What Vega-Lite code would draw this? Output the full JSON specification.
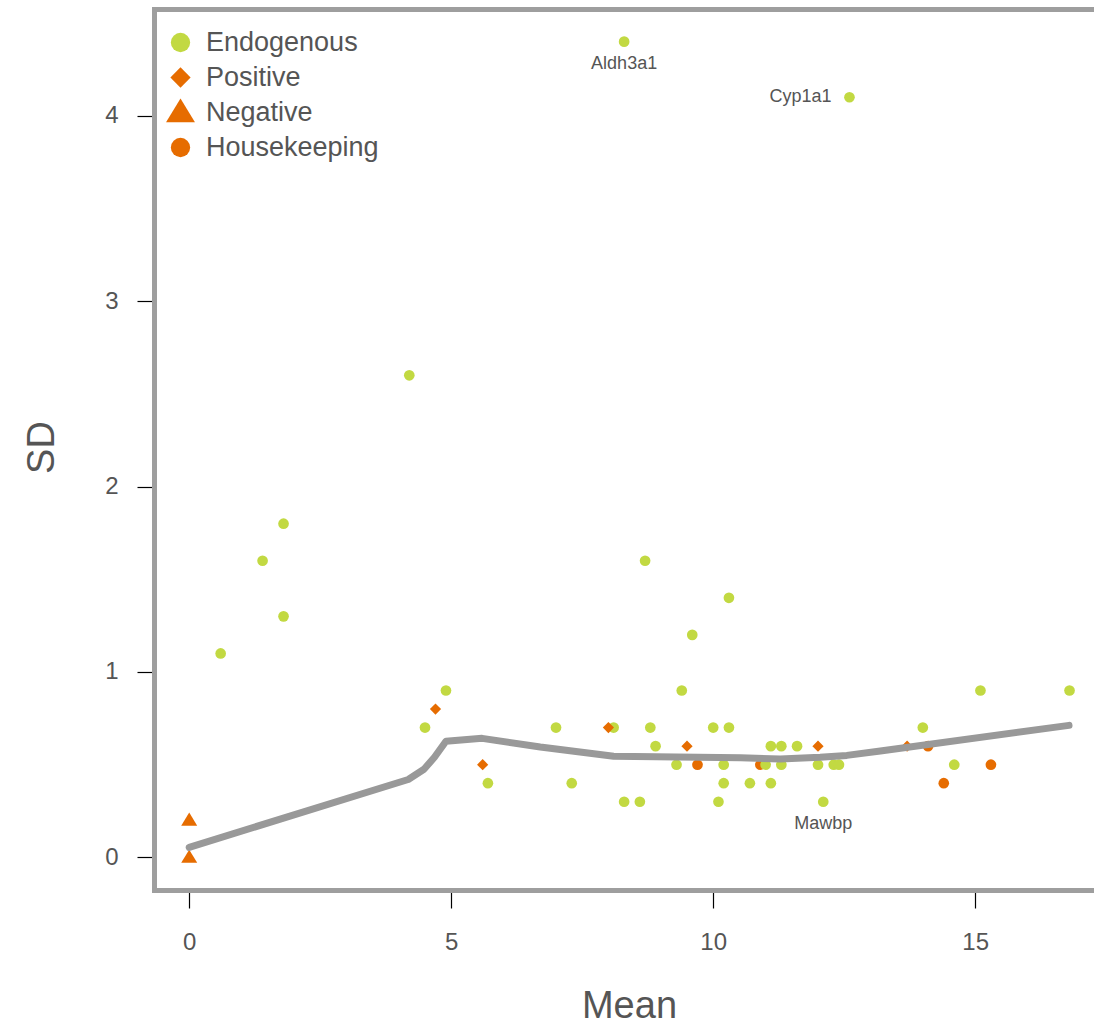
{
  "$schema": "https://vega.github.io/schema/vega-lite/v6.json",
  "width": 940,
  "height": 881,
  "autosize": {"type": "none"},
  "padding": {"left": 154, "top": 9, "right": 0, "bottom": 137},
  "background": "white",
  "config": {
    "view": {"stroke": null},
    "font": "Liberation Sans",
    "axis": {
      "grid": false,
      "domainColor": "#9e9e9e",
      "domainWidth": 5,
      "domainCap": "square",
      "tickColor": "#000000",
      "tickWidth": 1.2,
      "labelColor": "#555555",
      "titleColor": "#555555",
      "labelFont": "Liberation Sans",
      "titleFont": "Liberation Sans",
      "labelFontSize": 24,
      "titleFontSize": 38,
      "titleFontWeight": "normal"
    },
    "legend": {
      "orient": "none",
      "legendX": 13,
      "legendY": 20,
      "padding": 0,
      "labelFont": "Liberation Sans",
      "labelFontSize": 27,
      "labelColor": "#555555",
      "labelOffset": 12,
      "labelLimit": 400,
      "rowPadding": 7,
      "symbolSize": 372,
      "symbolStrokeWidth": 0,
      "symbolOpacity": 1
    }
  },
  "datasets": {
    "pts": [
      {"type": "Housekeeping", "mean": 9.7, "sd": 0.5, "label": ""},
      {"type": "Housekeeping", "mean": 10.9, "sd": 0.5, "label": ""},
      {"type": "Housekeeping", "mean": 14.1, "sd": 0.6, "label": ""},
      {"type": "Housekeeping", "mean": 14.4, "sd": 0.4, "label": ""},
      {"type": "Housekeeping", "mean": 15.3, "sd": 0.5, "label": ""},
      {"type": "Endogenous", "mean": 8.3, "sd": 4.4, "label": "Aldh3a1"},
      {"type": "Endogenous", "mean": 12.6, "sd": 4.1, "label": "Cyp1a1"},
      {"type": "Endogenous", "mean": 4.2, "sd": 2.6, "label": ""},
      {"type": "Endogenous", "mean": 1.8, "sd": 1.8, "label": ""},
      {"type": "Endogenous", "mean": 1.4, "sd": 1.6, "label": ""},
      {"type": "Endogenous", "mean": 1.8, "sd": 1.3, "label": ""},
      {"type": "Endogenous", "mean": 0.6, "sd": 1.1, "label": ""},
      {"type": "Endogenous", "mean": 8.7, "sd": 1.6, "label": ""},
      {"type": "Endogenous", "mean": 10.3, "sd": 1.4, "label": ""},
      {"type": "Endogenous", "mean": 9.6, "sd": 1.2, "label": ""},
      {"type": "Endogenous", "mean": 4.9, "sd": 0.9, "label": ""},
      {"type": "Endogenous", "mean": 4.5, "sd": 0.7, "label": ""},
      {"type": "Endogenous", "mean": 5.7, "sd": 0.4, "label": ""},
      {"type": "Endogenous", "mean": 9.4, "sd": 0.9, "label": ""},
      {"type": "Endogenous", "mean": 15.1, "sd": 0.9, "label": ""},
      {"type": "Endogenous", "mean": 16.8, "sd": 0.9, "label": ""},
      {"type": "Endogenous", "mean": 7.0, "sd": 0.7, "label": ""},
      {"type": "Endogenous", "mean": 8.1, "sd": 0.7, "label": ""},
      {"type": "Endogenous", "mean": 8.8, "sd": 0.7, "label": ""},
      {"type": "Endogenous", "mean": 10.0, "sd": 0.7, "label": ""},
      {"type": "Endogenous", "mean": 10.3, "sd": 0.7, "label": ""},
      {"type": "Endogenous", "mean": 14.0, "sd": 0.7, "label": ""},
      {"type": "Endogenous", "mean": 8.9, "sd": 0.6, "label": ""},
      {"type": "Endogenous", "mean": 11.1, "sd": 0.6, "label": ""},
      {"type": "Endogenous", "mean": 11.3, "sd": 0.6, "label": ""},
      {"type": "Endogenous", "mean": 11.6, "sd": 0.6, "label": ""},
      {"type": "Endogenous", "mean": 9.3, "sd": 0.5, "label": ""},
      {"type": "Endogenous", "mean": 10.2, "sd": 0.5, "label": ""},
      {"type": "Endogenous", "mean": 11.0, "sd": 0.5, "label": ""},
      {"type": "Endogenous", "mean": 11.3, "sd": 0.5, "label": ""},
      {"type": "Endogenous", "mean": 12.0, "sd": 0.5, "label": ""},
      {"type": "Endogenous", "mean": 12.3, "sd": 0.5, "label": ""},
      {"type": "Endogenous", "mean": 12.4, "sd": 0.5, "label": ""},
      {"type": "Endogenous", "mean": 14.6, "sd": 0.5, "label": ""},
      {"type": "Endogenous", "mean": 7.3, "sd": 0.4, "label": ""},
      {"type": "Endogenous", "mean": 10.2, "sd": 0.4, "label": ""},
      {"type": "Endogenous", "mean": 10.7, "sd": 0.4, "label": ""},
      {"type": "Endogenous", "mean": 11.1, "sd": 0.4, "label": ""},
      {"type": "Endogenous", "mean": 8.3, "sd": 0.3, "label": ""},
      {"type": "Endogenous", "mean": 8.6, "sd": 0.3, "label": ""},
      {"type": "Endogenous", "mean": 10.1, "sd": 0.3, "label": ""},
      {"type": "Endogenous", "mean": 12.1, "sd": 0.3, "label": "Mawbp"},
      {"type": "Positive", "mean": 4.7, "sd": 0.8, "label": ""},
      {"type": "Positive", "mean": 5.6, "sd": 0.5, "label": ""},
      {"type": "Positive", "mean": 8.0, "sd": 0.7, "label": ""},
      {"type": "Positive", "mean": 9.5, "sd": 0.6, "label": ""},
      {"type": "Positive", "mean": 12.0, "sd": 0.6, "label": ""},
      {"type": "Positive", "mean": 13.7, "sd": 0.6, "label": ""},
      {"type": "Negative", "mean": 0.0, "sd": 0.2, "label": ""},
      {"type": "Negative", "mean": 0.0, "sd": 0.0, "label": ""}
    ],
    "fit": [
      {"mean": 0.0, "sd": 0.054},
      {"mean": 4.18, "sd": 0.42},
      {"mean": 4.48, "sd": 0.475},
      {"mean": 4.68, "sd": 0.54},
      {"mean": 4.9, "sd": 0.626},
      {"mean": 5.59, "sd": 0.642},
      {"mean": 6.7, "sd": 0.595},
      {"mean": 8.1, "sd": 0.545},
      {"mean": 10.52, "sd": 0.537},
      {"mean": 11.28, "sd": 0.53},
      {"mean": 12.04, "sd": 0.54},
      {"mean": 12.55, "sd": 0.55},
      {"mean": 13.19, "sd": 0.574},
      {"mean": 16.79, "sd": 0.712}
    ]
  },
  "layer": [
    {
      "data": {"name": "pts"},
      "mark": {"type": "point", "filled": true, "opacity": 1, "strokeWidth": 0, "size": 114},
      "encoding": {
        "x": {
          "field": "mean", "type": "quantitative",
          "scale": {"domain": [-0.672, 17.267], "nice": false, "zero": false},
          "axis": {
            "orient": "bottom", "values": [0, 5, 10, 15], "tickSize": 18, "labelPadding": 22,
            "title": "Mean", "titleX": 475, "titleY": 127, "titleBaseline": "alphabetic", "titleAlign": "center"
          }
        },
        "y": {
          "field": "sd", "type": "quantitative",
          "scale": {"domain": [-0.176, 4.576], "nice": false, "zero": false},
          "axis": {
            "values": [0, 1, 2, 3, 4], "tickSize": 17, "labelPadding": 19,
            "title": "SD", "titleAngle": -90, "titleX": -101, "titleY": 438,
            "titleBaseline": "alphabetic", "titleAlign": "center"
          }
        },
        "color": {
          "field": "type", "type": "nominal",
          "scale": {"domain": ["Endogenous", "Positive", "Negative", "Housekeeping"],
                    "range": ["#c2d942", "#e66c00", "#e66c00", "#e66c00"]},
          "legend": {"title": null, "symbolSize": 372}
        },
        "shape": {
          "field": "type", "type": "nominal",
          "scale": {"domain": ["Endogenous", "Positive", "Negative", "Housekeeping"],
                    "range": ["circle", "M0,-1.05L1.05,0L0,1.05L-1.05,0Z", "M0,-1.45L1.5,1.0L-1.5,1.0Z", "circle"]},
          "legend": {"title": null, "symbolSize": 372}
        }
      }
    },
    {
      "data": {"name": "fit"},
      "mark": {"type": "line", "color": "#999999", "strokeWidth": 7, "strokeCap": "round", "strokeJoin": "round"},
      "encoding": {
        "x": {"field": "mean", "type": "quantitative", "axis": null},
        "y": {"field": "sd", "type": "quantitative", "axis": null}
      }
    },
    {
      "data": {"name": "pts"},
      "transform": [{"filter": "datum.label == 'Aldh3a1' || datum.label == 'Mawbp'"}],
      "mark": {"type": "text", "fontSize": 18, "color": "#555555", "align": "center", "baseline": "middle", "dy": 22, "font": "Liberation Sans"},
      "encoding": {
        "x": {"field": "mean", "type": "quantitative",
              "axis": {"orient": "top", "labels": false, "ticks": false, "title": null, "domain": true}},
        "y": {"field": "sd", "type": "quantitative", "axis": null},
        "text": {"field": "label"}
      }
    },
    {
      "data": {"name": "pts"},
      "transform": [{"filter": "datum.label == 'Cyp1a1'"}],
      "mark": {"type": "text", "fontSize": 18, "color": "#555555", "align": "right", "baseline": "middle", "dx": -18, "font": "Liberation Sans"},
      "encoding": {
        "x": {"field": "mean", "type": "quantitative", "axis": null},
        "y": {"field": "sd", "type": "quantitative", "axis": null},
        "text": {"field": "label"}
      }
    }
  ],
  "resolve": {"axis": {"x": "independent", "y": "independent"}}
}
